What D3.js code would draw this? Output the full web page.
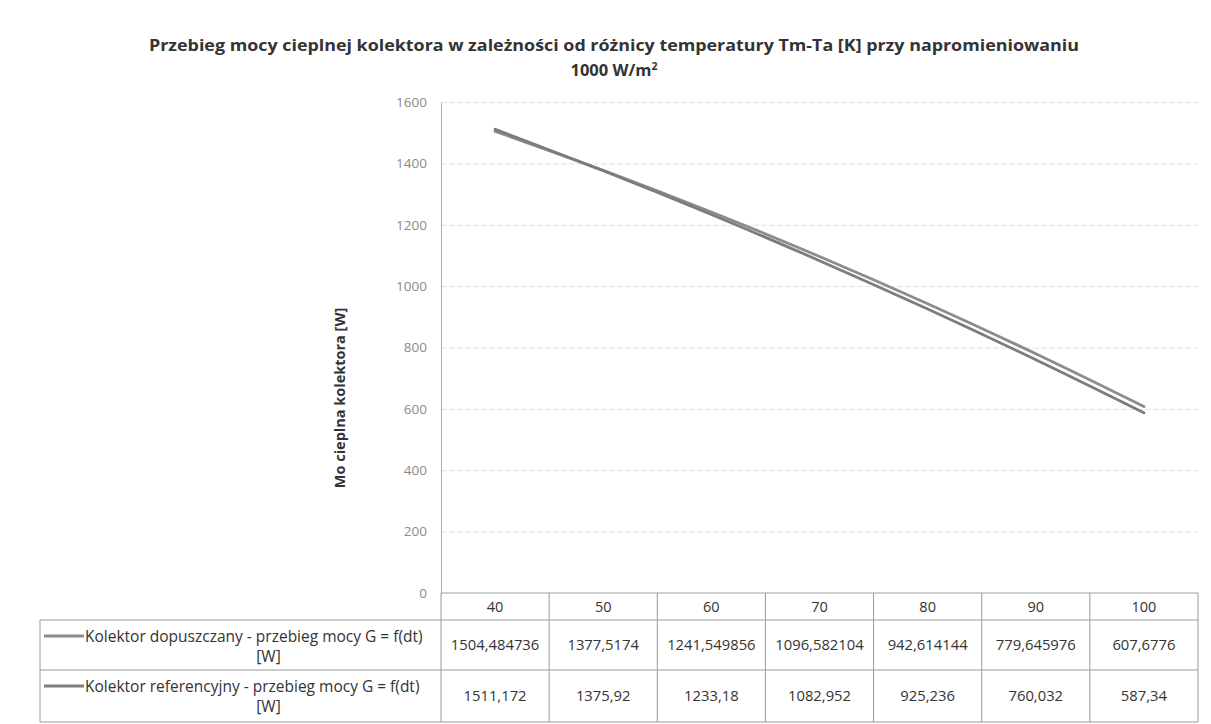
<!DOCTYPE html>
<html>
<head>
<meta charset="utf-8">
<script src="https://cdn.jsdelivr.net/npm/d3@7"></script>
<style>
  body { margin: 0; background: #fff; }
  svg { display: block; font-family: "Open Sans", sans-serif; }
</style>
</head>
<body>
<svg id="chart" width="1211" height="724"></svg>
<script>
const categories = ["40", "50", "60", "70", "80", "90", "100"];
const dopuszczany = [1504.484736, 1377.5174, 1241.549856, 1096.582104, 942.614144, 779.645976, 607.6776];
const referencyjny = [1511.172, 1375.92, 1233.18, 1082.952, 925.236, 760.032, 587.34];
const dopuszczanyLabels = ["1504,484736", "1377,5174", "1241,549856", "1096,582104", "942,614144", "779,645976", "607,6776"];
const referencyjnyLabels = ["1511,172", "1375,92", "1233,18", "1082,952", "925,236", "760,032", "587,34"];
const yTicks = [0, 200, 400, 600, 800, 1000, 1200, 1400, 1600];

const series = [
  { name: "Kolektor dopuszczany - przebieg mocy G = f(dt)", values: dopuszczany, labels: dopuszczanyLabels, color: "#8c8c8c" },
  { name: "Kolektor referencyjny - przebieg mocy G = f(dt)", values: referencyjny, labels: referencyjnyLabels, color: "#7c7c7c" }
];

const svg = d3.select("#chart");
const plot = { left: 441, right: 1198, top: 102, bottom: 593 };
const tableLeft = 40;
const rowY = [593, 620, 670, 722];

const x = d3.scaleBand().domain(categories).range([plot.left, plot.right]);
const y = d3.scaleLinear().domain([0, 1600]).range([plot.bottom, plot.top]);

// title
const title = svg.append("text")
  .attr("text-anchor", "middle")
  .attr("font-weight", "bold")
  .attr("font-size", 16.5)
  .attr("fill", "#333");
title.append("tspan").attr("x", 614).attr("y", 51)
  .attr("textLength", 930).attr("lengthAdjust", "spacingAndGlyphs")
  .text("Przebieg mocy cieplnej kolektora w zależności od różnicy temperatury Tm-Ta [K] przy napromieniowaniu");
const t2 = title.append("tspan").attr("x", 614).attr("y", 76).text("1000 W/m");
t2.append("tspan").attr("font-size", 10.5).attr("dy", -6).text("2");

// gridlines
svg.append("g")
  .attr("transform", `translate(${plot.left},0)`)
  .call(d3.axisLeft(y).tickValues(yTicks.filter(v => v > 0)).tickSize(-(plot.right - plot.left)).tickFormat(""))
  .call(g => g.select(".domain").remove())
  .selectAll("line")
  .attr("stroke", "#e2e2e2")
  .attr("stroke-dasharray", "6,2");

// y axis
const yAxis = svg.append("g")
  .attr("transform", `translate(${plot.left},0)`)
  .call(d3.axisLeft(y).tickValues(yTicks).tickSize(0).tickPadding(14).tickFormat(d3.format("d")));
yAxis.select(".domain").attr("stroke", "#b0b0b0");
yAxis.selectAll("text")
  .attr("font-size", 13.5)
  .attr("font-family", "Open Sans, sans-serif")
  .attr("fill", "#8a8a8a");

svg.append("text")
  .attr("transform", "rotate(-90)")
  .attr("x", -398)
  .attr("y", 345)
  .attr("text-anchor", "middle")
  .attr("font-weight", "bold")
  .attr("font-size", 14.5)
  .attr("fill", "#333")
  .text("Mo cieplna kolektora [W]");

// lines
const line = d3.line()
  .x((d, i) => x(categories[i]) + x.bandwidth() / 2)
  .y(d => y(d))
  .curve(d3.curveMonotoneX);

svg.selectAll("path.series")
  .data(series)
  .enter()
  .append("path")
  .attr("class", "series")
  .attr("fill", "none")
  .attr("stroke", d => d.color)
  .attr("stroke-width", 2.8)
  .attr("stroke-linecap", "round")
  .attr("d", d => line(d.values));

// data table
const table = svg.append("g").attr("stroke", "#9a9a9a").attr("stroke-width", 1);
table.append("line").attr("x1", plot.left).attr("x2", plot.right).attr("y1", rowY[0]).attr("y2", rowY[0]).attr("stroke", "#a0a0a0");
[1, 2, 3].forEach(i => {
  table.append("line").attr("x1", tableLeft).attr("x2", plot.right).attr("y1", rowY[i]).attr("y2", rowY[i]);
});
table.append("line").attr("x1", tableLeft).attr("x2", tableLeft).attr("y1", rowY[1]).attr("y2", rowY[3]);
categories.forEach(c => {
  table.append("line").attr("x1", x(c)).attr("x2", x(c)).attr("y1", rowY[0]).attr("y2", rowY[3]);
});
table.append("line").attr("x1", plot.right).attr("x2", plot.right).attr("y1", rowY[0]).attr("y2", rowY[3]);

// header (category labels)
svg.append("g").selectAll("text")
  .data(categories)
  .enter()
  .append("text")
  .attr("x", d => x(d) + x.bandwidth() / 2)
  .attr("y", (rowY[0] + rowY[1]) / 2 + 5)
  .attr("text-anchor", "middle")
  .attr("font-size", 14.5)
  .attr("fill", "#333")
  .text(d => d);

// rows
series.forEach((s, si) => {
  const top = rowY[si + 1], bottom = rowY[si + 2];
  const mid = (top + bottom) / 2;
  svg.append("g").selectAll("text")
    .data(s.labels)
    .enter()
    .append("text")
    .attr("x", (d, i) => x(categories[i]) + x.bandwidth() / 2)
    .attr("y", mid + 5)
    .attr("text-anchor", "middle")
    .attr("font-size", 14.8)
    .attr("fill", "#333")
    .text(d => d);

  // legend key + label
  svg.append("line")
    .attr("x1", tableLeft + 4).attr("x2", tableLeft + 44)
    .attr("y1", top + 16).attr("y2", top + 16)
    .attr("stroke", s.color).attr("stroke-width", 2.8);
  svg.append("text")
    .attr("x", tableLeft + 45)
    .attr("y", top + 22)
    .attr("font-size", 15.5)
    .attr("fill", "#333")
    .text(s.name);
  svg.append("text")
    .attr("x", (tableLeft + plot.left) / 2 + 28)
    .attr("y", top + 42)
    .attr("text-anchor", "middle")
    .attr("font-size", 15.5)
    .attr("fill", "#333")
    .text("[W]");
});
</script>
</body>
</html>
